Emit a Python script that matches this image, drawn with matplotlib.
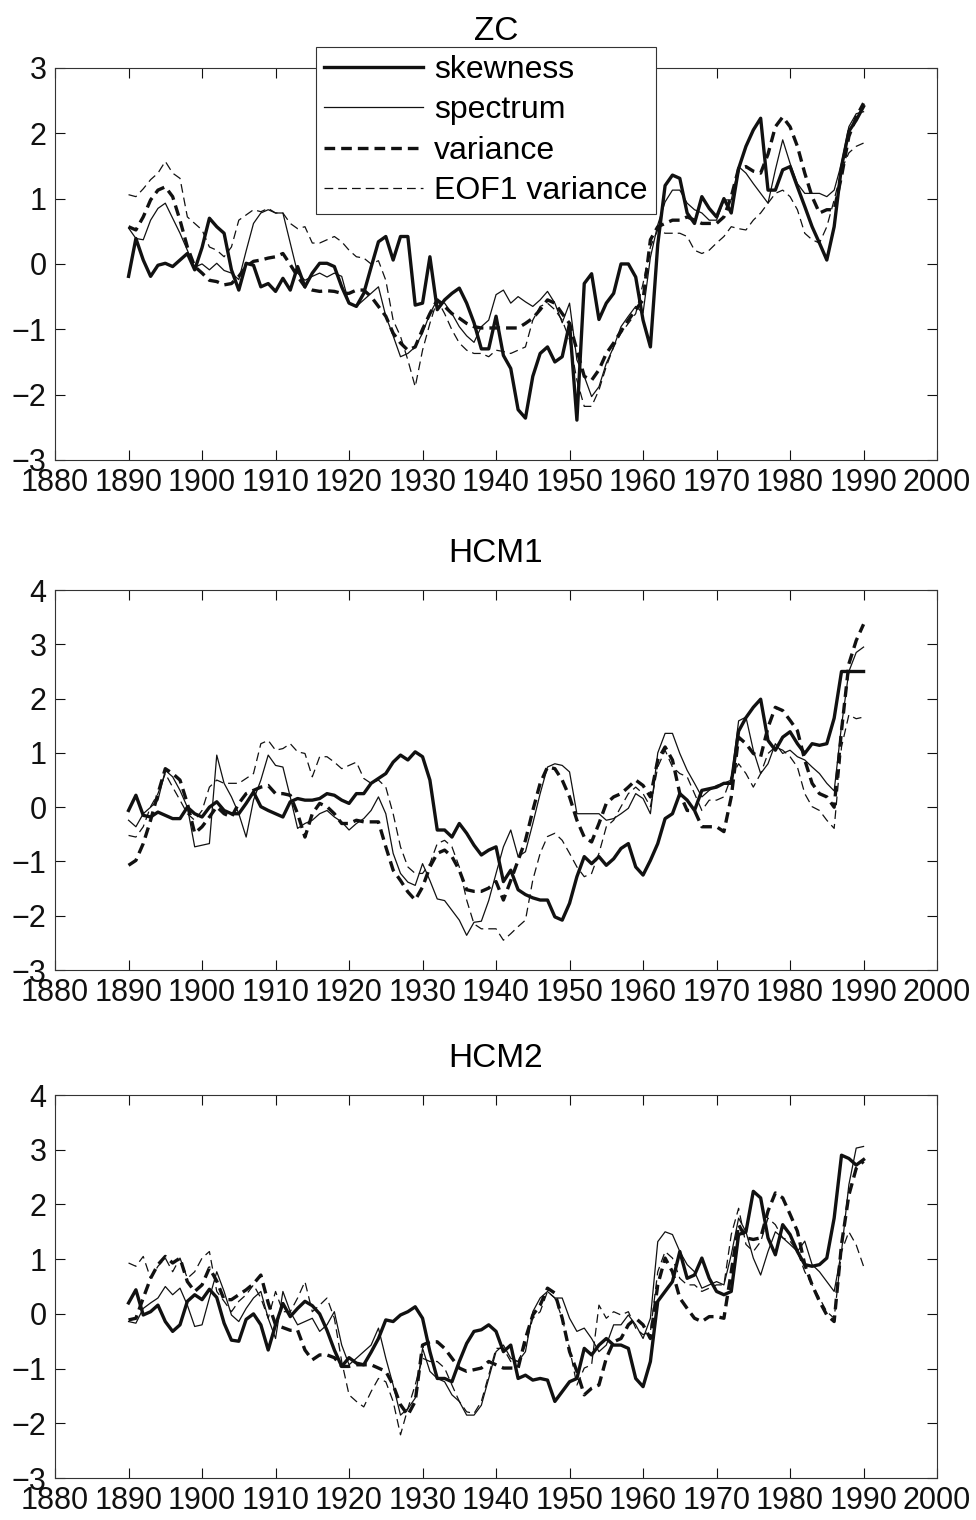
import matplotlib
matplotlib.use("Agg")
import matplotlib.pyplot as plt

plt.rcParams['font.family'] = ['Liberation Sans', 'DejaVu Sans']

years = list(range(1890, 1991))

# ZC model
zc_skewness = [
    -0.19, 0.39, 0.06, -0.19, -0.02, 0.01, -0.04, 0.06, 0.16, -0.09,
    0.25, 0.70, 0.57, 0.47, -0.09, -0.40, 0.01, -0.02, -0.35, -0.30,
    -0.42, -0.22, -0.40, -0.04, -0.35, -0.14, 0.01, 0.01, -0.04, -0.35,
    -0.60, -0.65, -0.45, -0.05, 0.34, 0.42, 0.06, 0.42, 0.42, -0.63,
    -0.60, 0.11, -0.70, -0.55, -0.45, -0.37, -0.60, -0.90, -1.30, -1.30,
    -0.80, -1.40, -1.60, -2.23, -2.36, -1.72, -1.37, -1.27, -1.50, -1.42,
    -0.91, -2.39, -0.30, -0.15, -0.85, -0.60, -0.45, 0.00, 0.00, -0.20,
    -0.86, -1.27, 0.30, 1.20, 1.36, 1.31, 0.78, 0.62, 1.03, 0.85,
    0.72, 1.00, 0.78, 1.46, 1.80, 2.05, 2.23, 1.13, 1.13, 1.44,
    1.49, 1.18, 0.88, 0.57, 0.32, 0.06, 0.57, 1.49, 2.03, 2.20,
    2.41]
zc_spectrum = [
    0.55, 0.39, 0.37, 0.67, 0.85, 0.93, 0.70, 0.47, 0.21, -0.05,
    0.00, -0.09, 0.01, -0.10, -0.14, -0.24, 0.20, 0.62, 0.78, 0.83,
    0.78, 0.78, 0.32, -0.14, -0.25, -0.19, -0.14, -0.20, -0.14, -0.19,
    -0.60, -0.65, -0.55, -0.45, -0.35, -0.80, -1.10, -1.42, -1.37, -1.27,
    -1.06, -0.76, -0.55, -0.60, -0.76, -0.96, -1.10, -1.20, -0.96, -0.86,
    -0.47, -0.40, -0.60, -0.50, -0.58, -0.65, -0.55, -0.42, -0.60, -0.90,
    -0.60, -1.47, -1.72, -2.03, -1.88, -1.52, -1.27, -0.96, -0.80, -0.65,
    -0.75, 0.10, 0.60, 0.95, 1.13, 1.13, 0.93, 0.83, 0.78, 0.67,
    0.67, 0.98, 0.98, 1.49, 1.39, 1.23, 1.08, 0.93, 1.44, 1.90,
    1.54, 1.23, 1.08, 1.08, 1.08, 1.03, 1.13, 1.54, 2.10, 2.30,
    2.33]
zc_variance = [
    0.57, 0.52, 0.72, 0.98, 1.13, 1.18, 1.03, 0.67, 0.26, -0.04,
    -0.14, -0.25, -0.27, -0.32, -0.30, -0.19, -0.04, 0.04, 0.06, 0.09,
    0.11, 0.16, -0.01, -0.19, -0.35, -0.40, -0.42, -0.41, -0.42, -0.45,
    -0.45, -0.40, -0.40, -0.50, -0.65, -0.80, -1.06, -1.21, -1.32, -1.27,
    -1.00, -0.76, -0.55, -0.65, -0.76, -0.83, -0.91, -0.96, -0.98, -0.98,
    -0.98, -0.98, -0.98, -0.98, -0.91, -0.83, -0.70, -0.55, -0.60, -0.76,
    -0.91, -1.32, -1.72, -1.78, -1.62, -1.37, -1.21, -1.03, -0.86, -0.70,
    -0.55, 0.37, 0.57, 0.62, 0.67, 0.67, 0.72, 0.67, 0.62, 0.62,
    0.62, 0.72, 1.03, 1.46, 1.49, 1.42, 1.39, 1.68, 2.10, 2.25,
    2.10, 1.80, 1.39, 1.03, 0.78, 0.83, 0.83, 1.34, 1.95, 2.25,
    2.46]
zc_eof1 = [
    1.06, 1.03, 1.15, 1.29, 1.39, 1.57, 1.39, 1.31, 0.72, 0.62,
    0.52, 0.26, 0.21, 0.11, 0.26, 0.67, 0.75, 0.83, 0.80, 0.85,
    0.78, 0.78, 0.62, 0.54, 0.57, 0.32, 0.32, 0.37, 0.42, 0.34,
    0.21, 0.11, 0.09, 0.00, 0.05, -0.25, -0.86, -1.11, -1.47, -1.88,
    -1.32, -0.91, -0.55, -0.76, -1.01, -1.21, -1.32, -1.37, -1.37, -1.42,
    -1.32, -1.34, -1.37, -1.32, -1.27, -0.86, -0.65, -0.60, -0.70, -0.86,
    -1.16, -1.78, -2.18, -2.18, -1.93, -1.57, -1.27, -1.06, -0.91, -0.76,
    -0.30, 0.26, 0.52, 0.47, 0.47, 0.47, 0.42, 0.21, 0.16, 0.21,
    0.32, 0.42, 0.57, 0.54, 0.52, 0.67, 0.78, 0.93, 1.08, 1.13,
    1.03, 0.83, 0.47, 0.37, 0.32, 0.57, 0.98, 1.44, 1.70, 1.80,
    1.85]

# HCM1 model
hcm1_skewness = [
    -0.06, 0.22, -0.15, -0.18, -0.09, -0.15, -0.21, -0.21, 0.00, -0.12,
    -0.18, 0.00, 0.10, -0.06, -0.12, -0.12, 0.07, 0.28, 0.01, -0.06,
    -0.12, -0.18, 0.10, 0.16, 0.13, 0.13, 0.16, 0.25, 0.22, 0.13,
    0.07, 0.25, 0.25, 0.44, 0.53, 0.62, 0.83, 0.96, 0.87, 1.02,
    0.93, 0.50, -0.42, -0.42, -0.55, -0.30, -0.48, -0.70, -0.88, -0.79,
    -0.73, -1.37, -1.16, -1.52, -1.61, -1.67, -1.71, -1.71, -2.02, -2.08,
    -1.77, -1.28, -0.91, -1.04, -0.91, -1.07, -0.95, -0.76, -0.67, -1.10,
    -1.25, -0.98, -0.67, -0.21, -0.12, 0.25, 0.13, -0.06, 0.31, 0.34,
    0.37, 0.44, 0.44, 1.40, 1.65, 1.84, 1.99, 1.23, 1.05, 1.29,
    1.39, 1.17, 0.99, 1.17, 1.14, 1.17, 1.64, 2.50, 2.50, 2.50,
    2.50]
hcm1_spectrum = [
    -0.24, -0.36, -0.12, 0.00, 0.13, 0.68, 0.56, 0.31, 0.00, -0.73,
    -0.70, -0.67, 0.96, 0.44, 0.19, -0.12, -0.55, 0.13, 0.50, 0.96,
    0.77, 0.74, 0.19, -0.39, -0.30, -0.24, -0.12, -0.06, -0.18, -0.27,
    -0.42, -0.30, -0.21, -0.06, 0.19, -0.12, -0.85, -1.22, -1.38, -1.44,
    -1.04, -1.35, -1.69, -1.72, -1.90, -2.08, -2.36, -2.12, -2.10, -1.72,
    -1.22, -0.73, -0.42, -0.91, -0.82, -0.30, 0.25, 0.74, 0.80, 0.77,
    0.65, -0.12, -0.12, -0.12, -0.12, -0.24, -0.21, -0.12, -0.02, 0.25,
    0.16, -0.12, 1.00, 1.36, 1.36, 0.99, 0.68, 0.44, 0.19, 0.31,
    0.40, 0.44, 0.50, 1.59, 1.66, 1.05, 0.62, 0.80, 1.17, 0.99,
    1.05, 0.93, 0.87, 0.74, 0.62, 0.44, 0.30, 1.50, 2.50, 2.85,
    2.95]
hcm1_variance = [
    -1.07, -0.98, -0.67, -0.24, 0.25, 0.71, 0.62, 0.50, 0.07, -0.48,
    -0.36, -0.18, 0.01, -0.12, -0.18, 0.07, 0.25, 0.31, 0.37, 0.40,
    0.25, 0.25, 0.22, -0.12, -0.55, -0.12, 0.07, 0.01, -0.12, -0.30,
    -0.30, -0.24, -0.27, -0.27, -0.27, -0.73, -1.16, -1.35, -1.56, -1.71,
    -1.47, -1.10, -0.85, -0.79, -0.91, -1.16, -1.52, -1.55, -1.55, -1.49,
    -1.37, -1.71, -1.35, -0.98, -0.61, -0.06, 0.44, 0.74, 0.71, 0.50,
    0.19, -0.24, -0.55, -0.64, -0.30, 0.07, 0.19, 0.25, 0.37, 0.50,
    0.40, 0.19, 0.87, 1.11, 0.87, 0.25, -0.06, -0.06, -0.36, -0.36,
    -0.36, -0.45, 0.19, 1.29, 1.17, 0.99, 0.93, 1.47, 1.84, 1.78,
    1.60, 1.41, 0.87, 0.44, 0.25, 0.19, 0.00, 1.41, 2.64, 3.07,
    3.37]
hcm1_eof1 = [
    -0.52, -0.55, -0.36, 0.01, 0.25, 0.62, 0.37, 0.13, -0.12, -0.24,
    -0.06, 0.37, 0.50, 0.44, 0.44, 0.44, 0.53, 0.62, 1.17, 1.23,
    1.05, 1.08, 1.17, 1.02, 0.99, 0.56, 0.93, 0.93, 0.83, 0.71,
    0.77, 0.83, 0.53, 0.44, 0.50, 0.37, -0.12, -0.73, -1.10, -1.22,
    -1.22, -1.04, -0.67, -0.61, -0.73, -1.10, -1.71, -2.15, -2.24, -2.24,
    -2.24, -2.45, -2.33, -2.20, -2.08, -1.34, -0.85, -0.54, -0.48, -0.61,
    -0.85, -1.10, -1.28, -1.22, -0.85, -0.36, -0.24, 0.01, 0.25, 0.37,
    0.25, 0.01, 0.74, 1.05, 0.74, 0.62, 0.56, 0.25, -0.06, 0.13,
    0.13, 0.19, 0.56, 0.80, 0.62, 0.37, 0.62, 0.99, 1.11, 1.05,
    0.93, 0.74, 0.25, 0.01, -0.06, -0.24, -0.39, 1.11, 1.70, 1.63,
    1.66]

# HCM2 model
hcm2_skewness = [
    0.20, 0.44, -0.02, 0.04, 0.16, -0.14, -0.32, -0.20, 0.23, 0.35,
    0.26, 0.45, 0.30, -0.17, -0.48, -0.50, -0.10, 0.00, -0.20, -0.66,
    -0.20, 0.19, -0.05, 0.10, 0.23, 0.15, 0.00, -0.30, -0.66, -0.96,
    -0.80, -0.90, -0.93, -0.70, -0.45, -0.11, -0.14, -0.02, 0.04, 0.13,
    -0.08, -0.69, -1.18, -1.18, -1.24, -0.87, -0.54, -0.32, -0.29, -0.20,
    -0.32, -0.69, -0.57, -1.18, -1.12, -1.21, -1.18, -1.21, -1.60, -1.42,
    -1.24, -1.18, -0.63, -0.75, -0.57, -0.45, -0.57, -0.57, -0.63, -1.18,
    -1.33, -0.87, 0.23, 0.41, 0.59, 1.14, 0.65, 0.71, 1.02, 0.65,
    0.41, 0.35, 0.41, 1.45, 1.50, 2.24, 2.12, 1.39, 1.08, 1.63,
    1.45, 1.14, 0.90, 0.87, 0.90, 1.02, 1.75, 2.90, 2.84, 2.72,
    2.82]
hcm2_spectrum = [
    -0.14, -0.17, 0.10, 0.20, 0.29, 0.50, 0.35, 0.47, 0.16, -0.23,
    -0.20, 0.29, 0.77, 0.41, -0.02, -0.14, 0.10, 0.29, 0.41, -0.08,
    -0.45, 0.41, 0.04, -0.20, -0.14, -0.08, -0.32, -0.20, 0.04, -0.57,
    -0.93, -0.81, -0.69, -0.57, -0.26, -0.81, -1.30, -1.85, -1.73, -1.54,
    -0.63, -1.05, -1.18, -1.24, -1.48, -1.60, -1.85, -1.85, -1.67, -1.18,
    -0.69, -0.57, -0.81, -0.87, -0.69, 0.04, 0.29, 0.41, 0.29, 0.29,
    -0.08, -0.32, -0.26, -0.45, -0.69, -0.57, -0.20, -0.20, -0.02, -0.20,
    -0.45, -0.08, 1.32, 1.50, 1.45, 1.14, 0.90, 0.77, 0.47, 0.53,
    0.59, 0.53, 1.08, 1.75, 1.50, 1.02, 0.71, 1.14, 1.50, 1.39,
    1.27, 1.14, 1.33, 0.90, 0.77, 0.59, 0.41, 1.14, 2.36, 3.03,
    3.06]
hcm2_variance = [
    -0.11, -0.08, 0.29, 0.65, 0.90, 1.05, 0.93, 1.02, 0.59, 0.41,
    0.53, 0.84, 0.60, 0.26, 0.26, 0.35, 0.44, 0.55, 0.71, 0.20,
    -0.20, -0.25, -0.30, -0.30, -0.66, -0.84, -0.75, -0.75, -0.80, -0.96,
    -0.96, -0.93, -0.93, -0.93, -0.99, -1.05, -1.30, -1.66, -1.85, -1.60,
    -0.57, -0.51, -0.51, -0.63, -0.81, -0.99, -1.05, -1.02, -0.99, -0.87,
    -0.93, -0.99, -0.99, -0.99, -0.45, -0.02, 0.16, 0.47, 0.38, -0.08,
    -0.69, -1.05, -1.48, -1.36, -1.30, -0.81, -0.51, -0.45, -0.20, -0.08,
    -0.20, -0.45, 0.53, 1.02, 0.77, 0.29, 0.10, -0.08, -0.14, -0.05,
    -0.05, -0.08, 0.77, 1.63, 1.39, 1.36, 1.39, 1.88, 2.21, 2.12,
    1.82, 1.51, 0.90, 0.53, 0.23, -0.02, -0.14, 1.27, 2.17, 2.66,
    2.79]
hcm2_eof1 = [
    0.93, 0.87, 1.05, 0.65, 0.87, 1.02, 0.77, 1.02, 0.65, 0.77,
    1.02, 1.14, 0.41, 0.23, 0.04, 0.23, 0.35, 0.53, 0.29, -0.08,
    0.41, 0.04, 0.04, 0.29, 0.59, 0.04, 0.16, 0.29, -0.08, -0.87,
    -1.48, -1.60, -1.70, -1.42, -1.18, -1.24, -1.60, -2.21, -1.73, -1.30,
    -0.81, -0.87, -0.87, -0.99, -1.30, -1.60, -1.79, -1.82, -1.60, -1.12,
    -0.63, -0.63, -0.87, -0.87, -0.57, -0.08, 0.04, 0.41, 0.29, -0.08,
    -0.63, -1.30, -0.99, -0.93, 0.16, -0.08, 0.04, -0.02, 0.04, -0.26,
    -0.38, -0.32, 0.77, 1.14, 1.02, 0.65, 0.53, 0.53, 0.41, 0.47,
    0.53, 0.53, 1.45, 1.93, 1.27, 1.14, 1.32, 1.75, 1.63, 1.39,
    1.33, 1.14, 0.77, 0.53, 0.29, 0.04, -0.08, 1.14, 1.50, 1.26,
    0.87]

panel_titles = ['ZC', 'HCM1', 'HCM2']
panel_series = [
    (zc_skewness, zc_spectrum, zc_variance, zc_eof1),
    (hcm1_skewness, hcm1_spectrum, hcm1_variance, hcm1_eof1),
    (hcm2_skewness, hcm2_spectrum, hcm2_variance, hcm2_eof1),
]
series_labels = ['skewness', 'spectrum', 'variance', 'EOF1 variance']
y_limits = [(-3, 3), (-3, 4), (-3, 4)]
x_ticks = list(range(1880, 2001, 10))

# line styles: thick solid, thin solid, thick dashed, thin dashed
styles = [
    dict(color='#111111', linewidth=2.4, linestyle='-'),
    dict(color='#111111', linewidth=0.9, linestyle='-'),
    dict(color='#111111', linewidth=2.4, linestyle=(0, (3.2, 1.8))),
    dict(color='#111111', linewidth=0.9, linestyle=(0, (7, 4))),
]

fig = plt.figure(figsize=(9.76, 15.2), dpi=100)
positions = [
    [0.0564, 0.6974, 0.9037, 0.2579],
    [0.0564, 0.3618, 0.9037, 0.2500],
    [0.0564, 0.0276, 0.9037, 0.2520],
]

for i, (title, series) in enumerate(zip(panel_titles, panel_series)):
    ax = fig.add_axes(positions[i])
    for values, style, label in zip(series, styles, series_labels):
        ax.plot(years, values, label=label, **style)

    ax.set_xlim(1880, 2000)
    ax.set_ylim(*y_limits[i])
    ax.set_xticks(x_ticks)
    yt = list(range(y_limits[i][0], y_limits[i][1] + 1))
    ax.set_yticks(yt)
    ax.set_yticklabels([str(v).replace('-', '\u2212') for v in yt])
    ax.tick_params(direction='in', top=True, right=True, length=7, width=0.8,
                   labelsize=22, colors='#111111')
    ax.tick_params(axis='x', pad=6)
    ax.tick_params(axis='y', pad=6)
    for spine in ax.spines.values():
        spine.set_linewidth(0.8)
        spine.set_color('#333333')
    ax.set_title(title, fontsize=24, pad=20)

    if i == 0:
        leg = ax.legend(loc='upper left', bbox_to_anchor=(0.296, 1.054),
                        fontsize=23, handlelength=3.1, handletextpad=0.35,
                        labelspacing=0.33, borderpad=0.25, borderaxespad=0,
                        fancybox=False, framealpha=1, edgecolor='#333333')
        leg.get_frame().set_linewidth(0.8)
        leg.set_zorder(5)

fig.savefig('out.png', dpi=100)
plt.close(fig)
